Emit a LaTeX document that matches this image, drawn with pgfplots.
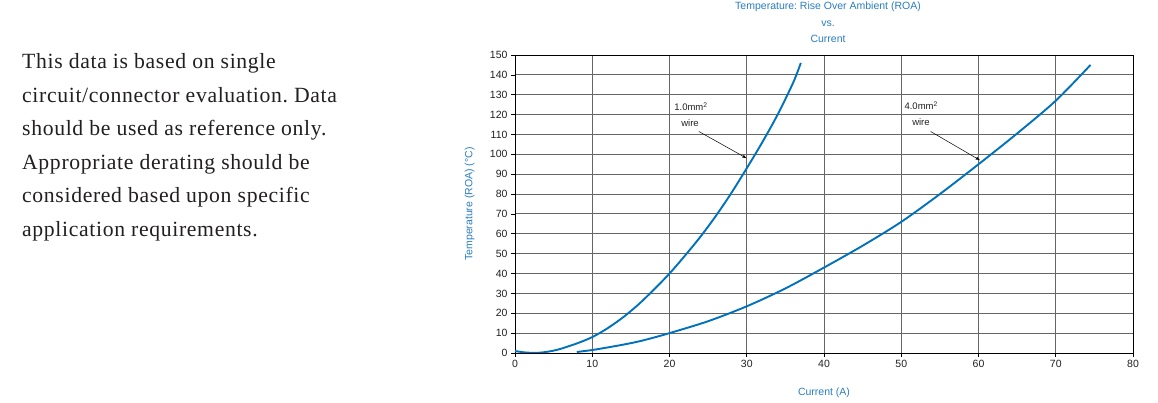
\documentclass[border=0pt]{standalone}
\usepackage{pgfplots}
\pgfplotsset{compat=1.18}
\usepackage{fontspec}
\setmainfont{Liberation Sans}
\newfontfamily\serifpara[LetterSpace=3]{Liberation Serif}
\definecolor{ablue}{RGB}{0,114,188}
\definecolor{tblue}{RGB}{40,125,195}
\definecolor{tick}{RGB}{35,31,32}
\frenchspacing
\begin{document}
\begin{tikzpicture}[x=1pt,y=1pt]
\path[use as bounding box] (0,0) rectangle (1158,403);
% paragraph
\begin{scope}[every node/.style={anchor=base west, inner sep=0pt, font=\serifpara\fontsize{21.7}{22}\selectfont, text=tick}]
\node at (22,334) {This data is based on single};
\node at (22,300.5) {circuit/connector evaluation. Data};
\node at (22,267) {should be used as reference only.};
\node at (22,233.5) {Appropriate derating should be};
\node at (22,200) {considered based upon specific};
\node at (22,166.5) {application requirements.};
\end{scope}
% title
\node[font=\fontsize{10.5}{16.3}\selectfont, text=tblue, align=center, anchor=north, inner sep=0pt] at (828,401) {Temperature: Rise Over Ambient (ROA)\\vs.\\Current};
\begin{axis}[
  at={(515pt,50pt)}, anchor=south west,
  scale only axis, width=618pt, height=298pt,
  xmin=0, xmax=80, ymin=0, ymax=150,
  xtick={0,10,...,80}, ytick={0,10,...,150},
  grid=major,
  major grid style={black!60, line width=0.9pt},
  axis line style={black, line width=0.9pt},
  tick style={black, line width=0.6pt},
  tick align=outside, major tick length=4pt,
  xtick pos=bottom, ytick pos=left,
  tick label style={font=\fontsize{10.5}{12}\selectfont, text=tick},
  /pgf/number format/assume math mode=true,
  xlabel={Current (A)}, ylabel={Temperature (ROA) (\textdegree C)},
  label style={font=\fontsize{10.5}{12}\selectfont, text=tblue},
  xlabel style={at={(axis description cs:0.5,0)}, anchor=north, yshift=-31pt},
  ylabel style={at={(axis description cs:0,0.5)}, anchor=south, yshift=37pt},
  clip=true,
]
\addplot[ablue, line width=1.9pt, smooth] coordinates {
(0,1) (1,0.4) (2,0.1) (3,0.1) (4,0.5) (5,1.2) (6,2.2) (8,4.8) (10,8) (12,12.5) (14,18) (16,24.5) (18,32) (20,40) (22,49) (24,58.5) (26,69) (28,80.5) (30,93) (32,106) (34,120) (36,136) (37,146)
};
\addplot[ablue, line width=1.9pt, smooth] coordinates {
(8,0.5) (10,1.5) (12,2.8) (14,4.2) (16,5.8) (18,7.8) (20,10) (25,16) (30,23.5) (35,32.5) (40,43) (45,54) (50,66) (55,80) (60,95) (65,110.5) (70,127) (74.5,145)
};
\node[font=\fontsize{9.5}{10}\selectfont, text=tick, anchor=west, inner sep=0pt] at (axis cs:20.6,124) {1.0mm\textsuperscript{2}};
\node[font=\fontsize{9.5}{10}\selectfont, text=tick, anchor=west, inner sep=0pt] at (axis cs:21.5,115.5) {wire};
\draw[-latex, black, line width=0.5pt] (axis cs:23.8,111.5) -- (axis cs:30,98);
\node[font=\fontsize{9.5}{10}\selectfont, text=tick, anchor=west, inner sep=0pt] at (axis cs:50.4,124.5) {4.0mm\textsuperscript{2}};
\node[font=\fontsize{9.5}{10}\selectfont, text=tick, anchor=west, inner sep=0pt] at (axis cs:51.4,116) {wire};
\draw[-latex, black, line width=0.5pt] (axis cs:53.8,111.5) -- (axis cs:60.2,97);
\end{axis}
\end{tikzpicture}
\end{document}
